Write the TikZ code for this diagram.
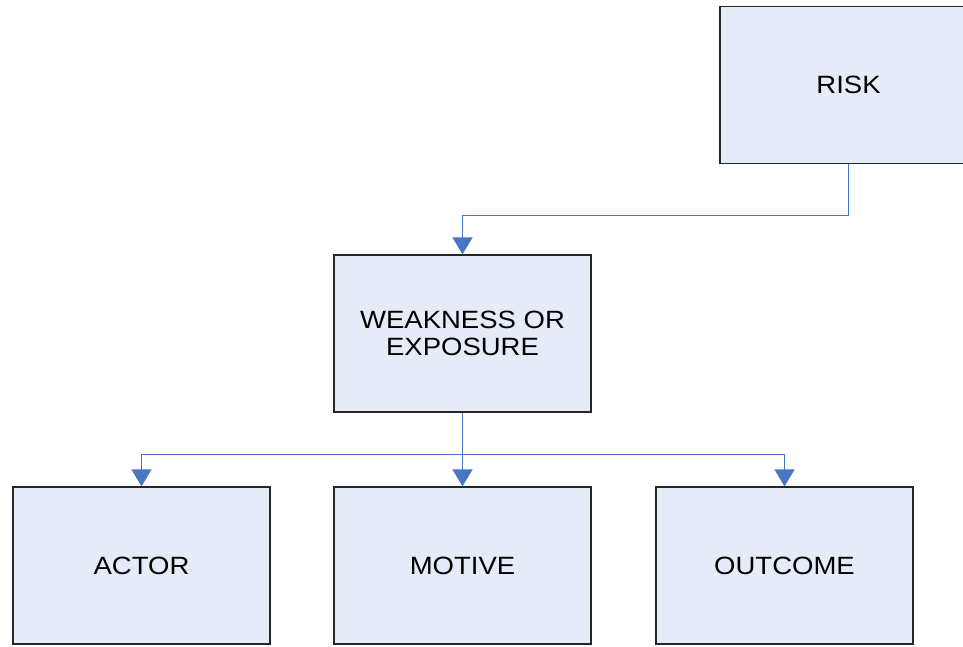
\documentclass[tikz,border=0pt]{standalone}
\usepackage{fontspec}
\usepackage{xcolor}
\usepackage{tikz}
\usetikzlibrary{arrows.meta}
\newfontfamily\boxfont{Liberation Sans}[FakeStretch=1.1]
\definecolor{boxfill}{RGB}{230,236,247}
\definecolor{linkblue}{RGB}{72,118,196}

\begin{document}
\begin{tikzpicture}[x=1pt,y=1pt,>={Triangle[width=20pt,length=17pt]},
  box/.style={draw=black!85,line width=1.2pt,fill=boxfill,minimum width=257pt,minimum height=157pt,
    align=center,font=\boxfont\fontsize{25}{27}\selectfont,inner sep=0pt},
  link/.style={draw=linkblue,line width=1.2pt}]
\clip(0,0)rectangle(963,-647);
\useasboundingbox(0,0)rectangle(963,-647);
\node[box](risk)at(848.5,-85){RISK};
\node[box](weak)at(462.5,-333.5){WEAKNESS OR\\EXPOSURE};
\node[box](actor)at(141.5,-565.5){ACTOR};
\node[box](motive)at(462.5,-565.5){MOTIVE};
\node[box](outcome)at(784.5,-565.5){OUTCOME};
\coordinate(bend)at(848.5,-215.5);
\coordinate(split)at(462.5,-454.5);
\draw[link,->](risk.south)--(bend)-|(weak.north);
\draw[link,->](weak.south)--(motive.north);
\draw[link,->](split)-|(actor.north);
\draw[link,->](split)-|(outcome.north);
\end{tikzpicture}
\end{document}
